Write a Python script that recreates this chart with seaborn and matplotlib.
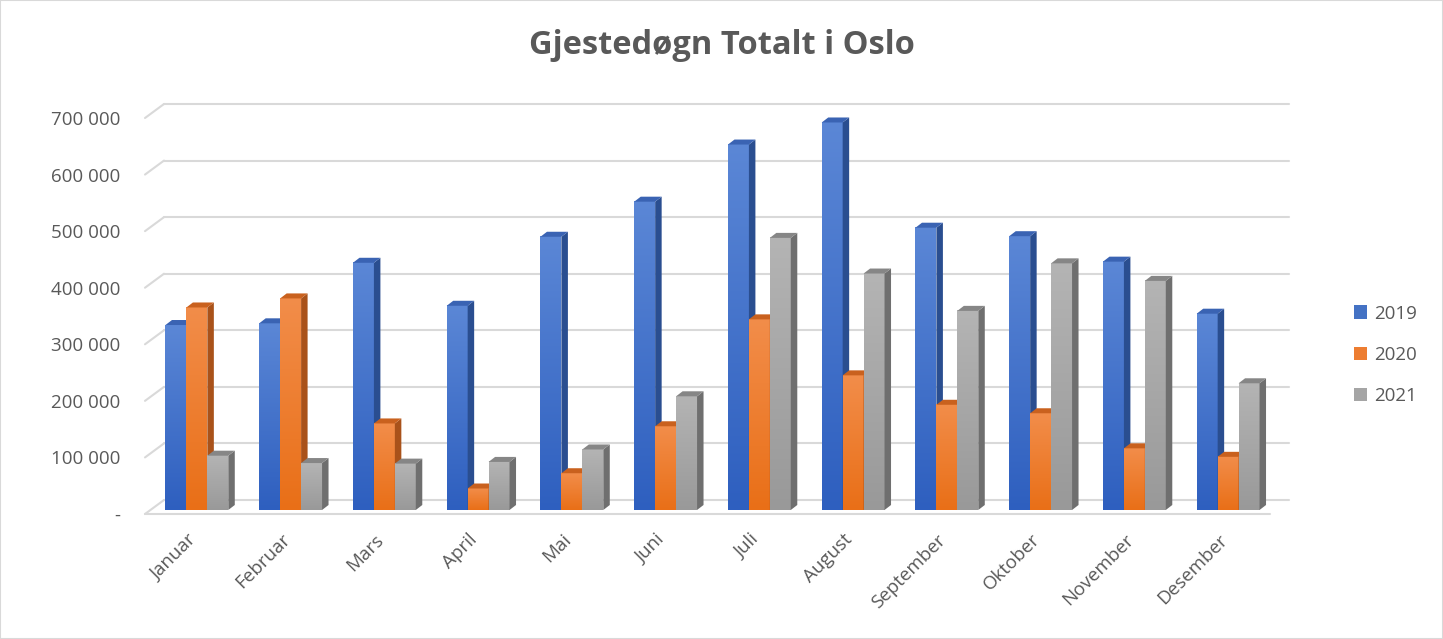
import numpy as np
import pandas as pd
import matplotlib
matplotlib.use('Agg')
import matplotlib.pyplot as plt
import matplotlib.transforms as mtransforms
import seaborn as sns
from matplotlib.patches import Polygon, Patch, Rectangle
from matplotlib.colors import LinearSegmentedColormap

months = ['Januar', 'Februar', 'Mars', 'April', 'Mai', 'Juni', 'Juli',
          'August', 'September', 'Oktober', 'November', 'Desember']
years = ['2019', '2020', '2021']
v2019 = [327000, 330000, 437000, 361000, 483000, 545000, 646000, 685000, 499000, 484000, 439000, 347000]
v2020 = [358000, 374000, 153000, 38000, 65000, 148000, 337000, 238000, 186000, 171000, 109000, 94000]
v2021 = [96000, 83000, 82000, 85000, 107000, 201000, 481000, 418000, 352000, 436000, 405000, 224000]
yticks = [0, 100000, 200000, 300000, 400000, 500000, 600000, 700000]

# front, gradient top, gradient bottom, side, top face
front = ['#4472C4', '#ED7D31', '#A5A5A5']
grad_top = ['#5B87D6', '#F28D4A', '#B4B4B4']
grad_bot = ['#2E5FBF', '#E96F17', '#999999']
side = ['#2A4E90', '#A9521A', '#6F6F6F']
topc = ['#3A63B3', '#C9611E', '#868686']
txt = '#595959'
grid = '#D9D9D9'

sns.set_style('white')
plt.rcParams['font.family'] = ['Open Sans', 'DejaVu Sans']

W, H = 1443, 639
fig = plt.figure(figsize=(W / 100, H / 100), dpi=100)
ax = fig.add_axes([145 / W, 1 - 514 / H, 1125 / W, 396 / H])

df = pd.DataFrame({'Måned': months * 3,
                   'År': np.repeat(years, 12),
                   'Gjestedøgn': v2019 + v2020 + v2021})
sns.barplot(data=df, x='Måned', y='Gjestedøgn', hue='År', order=months,
            hue_order=years, palette=front, width=0.67, errorbar=None,
            saturation=1, legend=False, ax=ax)

ax.set_xlim(-0.5, 11.5)
ax.set_ylim(0, 700000)

# pixel -> data conversions for the fake 3D depth
ux = 1125 / 12
uy = 396 / 700000
bx, by = 5 / ux, 4 / uy      # bars sit a bit behind the front edge
dx, dy = 6.5 / ux, 5 / uy    # bar depth
wx, wy = 19 / ux, 14 / uy    # back wall offset

# back wall gridlines + floor
for v in yticks:
    ax.plot([-0.5, -0.5 + wx], [v, v + wy], color=grid, lw=1.5, zorder=1, clip_on=False)
    ax.plot([-0.5 + wx, 11.5 + wx], [v + wy, v + wy], color=grid, lw=1.5, zorder=1, clip_on=False)
ax.plot([-0.5, 11.5], [0, 0], color=grid, lw=1.5, zorder=1, clip_on=False)

bars = [p for p in ax.patches if isinstance(p, Rectangle)][:36]
for i, p in enumerate(bars):
    k = i // 12
    x0 = p.get_x() + bx
    w = p.get_width()
    h = p.get_height()
    y0 = by
    p.set_xy((x0, y0))
    p.set_facecolor('none')
    p.set_edgecolor('none')
    z = 3 + k
    cmap = LinearSegmentedColormap.from_list('g', [grad_bot[k], grad_top[k]])
    im = ax.imshow(np.linspace(0, 1, 256).reshape(-1, 1), extent=[x0, x0 + w, y0, y0 + h],
                   origin='lower', cmap=cmap, aspect='auto', zorder=z, clip_on=False)
    im.set_clip_path(p)
    ax.add_patch(Polygon([(x0 + w, y0), (x0 + w + dx, y0 + dy), (x0 + w + dx, y0 + h + dy),
                          (x0 + w, y0 + h)], closed=True, facecolor=side[k],
                         edgecolor='none', zorder=z, clip_on=False))
    ax.add_patch(Polygon([(x0, y0 + h), (x0 + w, y0 + h), (x0 + w + dx, y0 + h + dy),
                          (x0 + dx, y0 + h + dy)], closed=True, facecolor=topc[k],
                         edgecolor='none', zorder=z, clip_on=False))

ax.set_xlim(-0.5, 11.5)
ax.set_ylim(0, 700000)

ax.set_yticks(yticks)
ax.set_yticklabels(['-' if v == 0 else f'{v:,}'.replace(',', ' ') for v in yticks])
ax.set_xticks(range(12))
ax.set_xticklabels(months, rotation=45, ha='right', rotation_mode='anchor')
ax.tick_params(axis='y', length=0, pad=18, labelcolor=txt, labelsize=13.5)
ax.tick_params(axis='x', length=0, pad=12, labelcolor=txt, labelsize=13.5)
shift = mtransforms.ScaledTranslation(-5 / 100, 0, fig.dpi_scale_trans)
for lab in ax.get_xticklabels():
    lab.set_transform(lab.get_transform() + shift)
ax.set_xlabel('')
ax.set_ylabel('')
for s in ax.spines.values():
    s.set_visible(False)

fig.text(722 / W, 1 - 46 / H, 'Gjestedøgn Totalt i Oslo', ha='center', va='center',
         fontsize=23.5, fontweight='bold', color=txt)

handles = [Patch(facecolor=c, edgecolor='none') for c in front]
ax.legend(handles=handles, labels=years, loc='center left',
          bbox_to_anchor=(1354 / W, 1 - 355 / H), bbox_transform=fig.transFigure,
          frameon=False, fontsize=13.5, handlelength=0.7, handleheight=0.7,
          handletextpad=0.35, labelspacing=1.25, borderpad=0, borderaxespad=0,
          labelcolor=txt)

fig.patches.append(Rectangle((0, 0), 1, 1, transform=fig.transFigure, fill=False,
                             edgecolor=grid, lw=1.5))

fig.savefig('out.png', dpi=100)
